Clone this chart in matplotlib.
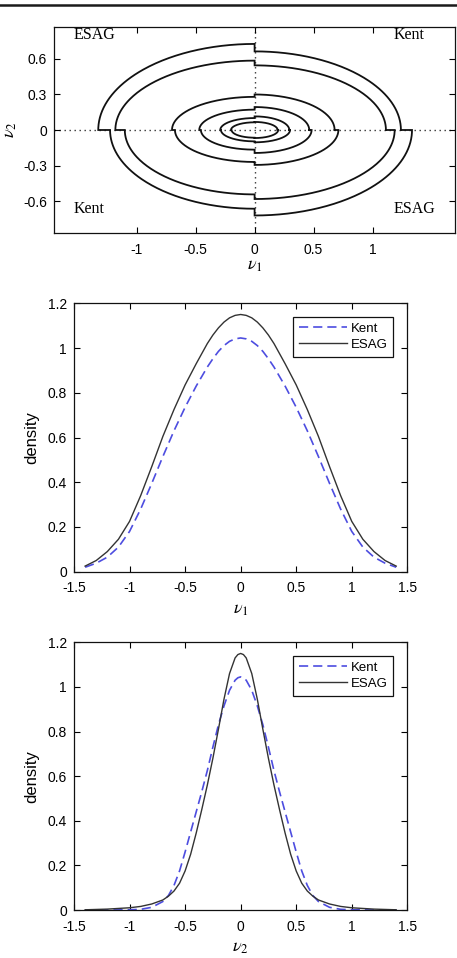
import numpy as np
import matplotlib
matplotlib.use("Agg")
import matplotlib.pyplot as plt
from matplotlib.lines import Line2D

plt.rcParams['font.family'] = ['Liberation Sans', 'DejaVu Sans']
plt.rcParams['axes.unicode_minus'] = False
plt.rcParams['mathtext.fontset'] = 'stix'

# ---------------- data ----------------
# contour semi-axes per quadrant (6 levels, outer -> inner)
esag_ul_a = [1.325, 1.180, 0.700, 0.469, 0.291, 0.200]
esag_ul_b = [0.727, 0.586, 0.280, 0.172, 0.101, 0.065]
kent_ur_a = [1.240, 1.113, 0.678, 0.463, 0.294, 0.195]
kent_ur_b = [0.664, 0.546, 0.300, 0.194, 0.115, 0.068]
kent_ll_a = [1.225, 1.100, 0.675, 0.455, 0.285, 0.195]
kent_ll_b = [0.665, 0.544, 0.270, 0.166, 0.096, 0.065]
esag_lr_a = [1.334, 1.187, 0.710, 0.483, 0.300, 0.200]
esag_lr_b = [0.722, 0.583, 0.295, 0.194, 0.104, 0.068]

# marginal density of nu1
nu1_x = [-1.4, -1.3, -1.2, -1.1, -1.0, -0.9, -0.8, -0.7, -0.6, -0.5, -0.4, -0.3,
         -0.25, -0.2, -0.15, -0.1, -0.05, 0.0, 0.05, 0.1, 0.15, 0.2, 0.25,
         0.3, 0.4, 0.5, 0.6, 0.7, 0.8, 0.9, 1.0, 1.1, 1.2, 1.3, 1.4]
nu1_esag = [0.025, 0.05, 0.09, 0.145, 0.225, 0.34, 0.47, 0.605, 0.725, 0.835, 0.93, 1.02,
            1.058, 1.09, 1.116, 1.135, 1.146, 1.15, 1.146, 1.135, 1.116, 1.09, 1.058,
            1.02, 0.93, 0.835, 0.725, 0.605, 0.47, 0.34, 0.225, 0.145, 0.09, 0.05, 0.025]
nu1_kent = [0.02, 0.038, 0.065, 0.11, 0.18, 0.28, 0.395, 0.515, 0.63, 0.735, 0.83, 0.915,
            0.952, 0.985, 1.011, 1.03, 1.041, 1.045, 1.041, 1.03, 1.011, 0.985, 0.952,
            0.915, 0.83, 0.735, 0.63, 0.515, 0.395, 0.28, 0.18, 0.11, 0.065, 0.038, 0.02]

# marginal density of nu2
nu2_x = [-1.4, -1.2, -1.0, -0.9, -0.8, -0.7, -0.65, -0.6, -0.55, -0.5, -0.45, -0.4, -0.35, -0.3,
         -0.25, -0.2, -0.15, -0.1, -0.05, -0.025, 0.0, 0.025, 0.05, 0.1, 0.15, 0.2, 0.25,
         0.3, 0.35, 0.4, 0.45, 0.5, 0.55, 0.6, 0.65, 0.7, 0.8, 0.9, 1.0, 1.2, 1.4]
nu2_esag = [0.001, 0.004, 0.01, 0.016, 0.027, 0.045, 0.062, 0.085, 0.12, 0.175, 0.25, 0.345, 0.45, 0.56,
            0.68, 0.81, 0.945, 1.06, 1.13, 1.145, 1.15, 1.145, 1.13, 1.06, 0.945, 0.81, 0.68,
            0.56, 0.45, 0.345, 0.25, 0.175, 0.12, 0.085, 0.062, 0.045, 0.027, 0.016, 0.01, 0.004, 0.001]
nu2_kent = [0.0, 0.0, 0.001, 0.003, 0.012, 0.038, 0.065, 0.11, 0.175, 0.26, 0.35, 0.44, 0.53, 0.625,
            0.73, 0.83, 0.915, 0.985, 1.03, 1.041, 1.045, 1.041, 1.03, 0.985, 0.915, 0.83, 0.73,
            0.625, 0.53, 0.44, 0.35, 0.26, 0.175, 0.11, 0.065, 0.038, 0.012, 0.003, 0.001, 0.0, 0.0]

x_ticks = [-1.5, -1, -0.5, 0, 0.5, 1, 1.5]
x_ticklabels = ['-1.5', '-1', '-0.5', '0', '0.5', '1', '1.5']
y_ticks = [0, 0.2, 0.4, 0.6, 0.8, 1.0, 1.2]
y_ticklabels = ['0', '0.2', '0.4', '0.6', '0.8', '1', '1.2']
top_xticks = [-1, -0.5, 0, 0.5, 1]
top_xticklabels = ['-1', '-0.5', '0', '0.5', '1']
top_yticks = [-0.6, -0.3, 0, 0.3, 0.6]
top_yticklabels = ['-0.6', '-0.3', '0', '0.3', '0.6']

# ---------------- figure ----------------
W, H = 457, 958
fig = plt.figure(figsize=(W / 100, H / 100), dpi=100)
fig.add_artist(Line2D([0, 1], [1 - 5 / H] * 2, color='#1a1a1a', lw=1.8, transform=fig.transFigure))


def fa(l, t, r, b):
    return fig.add_axes([l / W, 1 - b / H, (r - l) / W, (b - t) / H])


def style(ax):
    ax.tick_params(direction='in', top=True, right=True, length=4, width=0.8,
                   labelsize=10, colors='black')
    ax.tick_params(axis='x', pad=7)
    ax.tick_params(axis='y', pad=5)
    for s in ax.spines.values():
        s.set_linewidth(0.9)
        s.set_color('#111111')


# top contour panel
ax0 = fa(54, 27, 455.2, 233)
ax0.set_xlim(-1.7, 1.7)
ax0.set_ylim(-0.87, 0.87)
dot = (0, (1, 2.6))
ax0.axhline(0, color='#333333', lw=1.0, ls=dot, zorder=1)
ax0.axvline(0, color='#333333', lw=1.0, ls=dot, zorder=1)
th = np.linspace(0, np.pi / 2, 120)
for i in range(len(esag_ul_a)):
    x_ur = kent_ur_a[i] * np.cos(th)
    y_ur = kent_ur_b[i] * np.sin(th)
    x_ul = -esag_ul_a[i] * np.sin(th)
    y_ul = esag_ul_b[i] * np.cos(th)
    x_ll = -kent_ll_a[i] * np.cos(th)
    y_ll = -kent_ll_b[i] * np.sin(th)
    x_lr = esag_lr_a[i] * np.sin(th)
    y_lr = -esag_lr_b[i] * np.cos(th)
    xs = np.concatenate([x_ur, x_ul, x_ll, x_lr, [x_ur[0]]])
    ys = np.concatenate([y_ur, y_ul, y_ll, y_lr, [y_ur[0]]])
    ax0.plot(xs, ys, color='#111111', lw=1.3, zorder=3, solid_joinstyle='miter')
style(ax0)
ax0.set_xticks(top_xticks)
ax0.set_xticklabels(top_xticklabels)
ax0.set_yticks(top_yticks)
ax0.set_yticklabels(top_yticklabels)
ax0.set_xlabel(r'$\nu_1$', fontsize=13, labelpad=0)
ax0.set_ylabel(r'$\nu_2$', fontsize=13, labelpad=3)
serif = dict(family=['Liberation Serif', 'DejaVu Serif'], fontsize=11.5, va='center')
ax0.text(-1.536, 0.80, 'ESAG', ha='left', **serif)
ax0.text(1.175, 0.80, 'Kent', ha='left', **serif)
ax0.text(-1.536, -0.665, 'Kent', ha='left', **serif)
ax0.text(1.175, -0.665, 'ESAG', ha='left', **serif)


def density_panel(ax, x, kent, esag, xlabel):
    ax.plot(x, kent, color='#4d4de0', lw=1.2, ls=(0, (5.5, 3)), label='Kent')
    ax.plot(x, esag, color='#333333', lw=1.0, label='ESAG')
    ax.set_xlim(-1.5, 1.5)
    ax.set_ylim(0, 1.2)
    style(ax)
    ax.set_xticks(x_ticks)
    ax.set_xticklabels(x_ticklabels)
    ax.set_yticks(y_ticks)
    ax.set_yticklabels(y_ticklabels)
    ax.set_xlabel(xlabel, fontsize=13, labelpad=4)
    ax.set_ylabel('density', fontsize=12, labelpad=6)
    leg = ax.legend(loc='upper right', bbox_to_anchor=(0.958, 0.950), borderaxespad=0,
                    fontsize=9.5, fancybox=False, framealpha=1, edgecolor='#111111',
                    handlelength=3.6, handletextpad=0.3, borderpad=0.45, labelspacing=0.3)
    leg.get_frame().set_linewidth(0.9)


ax1 = fa(74, 303.3, 407.3, 571.7)
density_panel(ax1, nu1_x, nu1_kent, nu1_esag, r'$\nu_1$')
ax2 = fa(74, 642.3, 407.3, 910)
density_panel(ax2, nu2_x, nu2_kent, nu2_esag, r'$\nu_2$')

fig.savefig('out.png', dpi=100)
